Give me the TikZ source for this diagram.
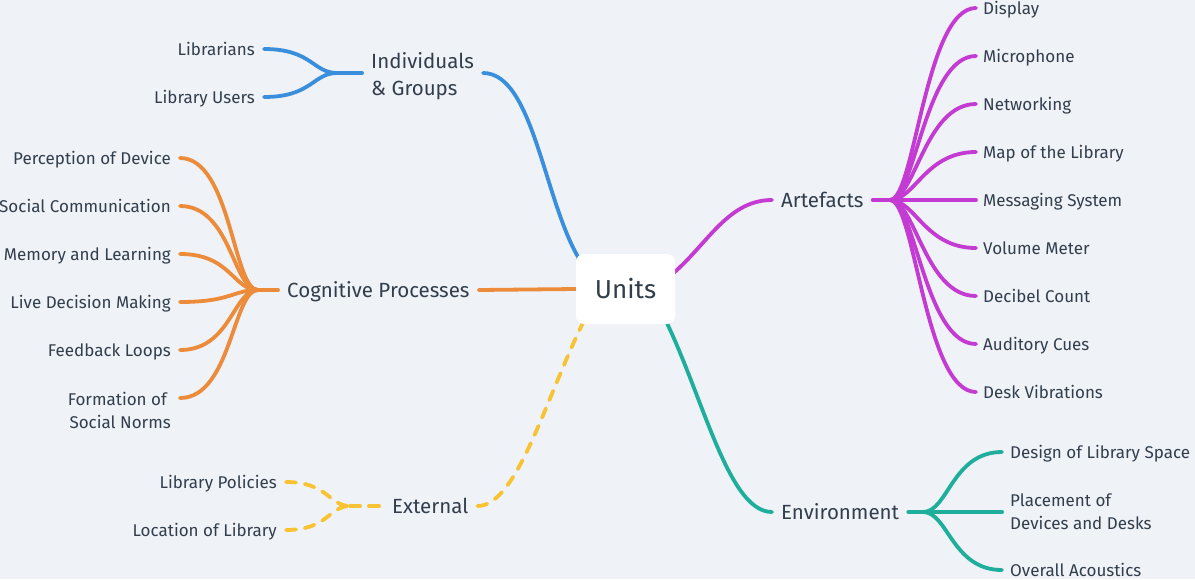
\documentclass[tikz,border=0pt]{standalone}
\usepackage{fontspec}
\setmainfont{Fira Sans}
\usetikzlibrary{calc}

\definecolor{bgc}{HTML}{EFF2F6}
\definecolor{ink}{HTML}{323E4C}
\definecolor{cblue}{HTML}{3A8FDD}
\definecolor{corange}{HTML}{EC8B3A}
\definecolor{cpurple}{HTML}{C43BD3}
\definecolor{cyellow}{HTML}{F8C332}
\definecolor{cteal}{HTML}{1FAE9B}

\pgfdeclarelayer{back}
\pgfdeclarelayer{edges}
\pgfsetlayers{back,edges,main}

\begin{document}
\begin{tikzpicture}[x=1pt,y=-1pt,
  leaf/.style={font=\fontsize{17}{23}\selectfont, text=ink, inner ysep=0pt,
    text height=13.3pt, text depth=0pt},
  leafL/.style={leaf, anchor=east, inner xsep=9pt},
  leafR/.style={leaf, anchor=west, inner xsep=7pt},
  multileaf/.style={font=\fontsize{17}{23}\selectfont, text=ink, inner ysep=0pt},
  branch/.style={font=\fontsize{20.5}{27}\selectfont, text=ink, anchor=west,
    inner xsep=9pt, inner ysep=0pt, text height=14.1pt, text depth=0pt},
  centre/.style={fill=white, rounded corners=8pt, minimum width=99pt,
    minimum height=70pt, font=\fontsize{26}{30}\selectfont, text=ink},
  wire/.style={line width=3.8pt, line cap=round},
  dashwire/.style={wire, dash pattern=on 10pt off 9pt},
]
\useasboundingbox (0,0) rectangle (1195,579);
\begin{pgfonlayer}{back}
  \fill[bgc] (0,0) rectangle (1195,579);
\end{pgfonlayer}

% central topic
\node[centre] (units) at (625.5,289) {Units};

% main branch labels
\node[branch, text height=, text depth=, align=left] (ind) at (362,76) {Individuals\\\& Groups};
\node[branch] (cog) at (278,290) {Cognitive Processes};
\node[branch] (ext) at (383,506) {External};
\node[branch] (art) at (772,200) {Artefacts};
\node[branch] (env) at (772,512) {Environment};

% merge points of the leaf bundles
\coordinate (indm) at (337,73);
\coordinate (cogm) at (258,290);
\coordinate (extm) at (350,506);
\coordinate (artm) at (890,200);
\coordinate (envm) at (923,512);

% individuals & groups
\node[leafL] (lib) at (264,49) {Librarians};
\node[leafL] (usr) at (264,97) {Library Users};

% cognitive processes
\node[leafL] (c1) at (180,158) {Perception of Device};
\node[leafL] (c2) at (180,206) {Social Communication};
\node[leafL] (c3) at (180,254) {Memory and Learning};
\node[leafL] (c4) at (180,302) {Live Decision Making};
\node[leafL] (c5) at (180,350) {Feedback Loops};
\node[multileaf, anchor=east, inner xsep=9pt, align=right] (c6) at (180,410) {Formation of\hspace*{4pt}\\Social Norms};

% external
\node[leafL] (e1) at (286,482) {Library Policies};
\node[leafL] (e2) at (286,530) {Location of Library};

% artefacts
\node[leafR] (a1) at (976,8) {Display};
\node[leafR] (a2) at (976,56) {Microphone};
\node[leafR] (a3) at (976,104) {Networking};
\node[leafR] (a4) at (976,152) {Map of the Library};
\node[leafR] (a5) at (976,200) {Messaging System};
\node[leafR] (a6) at (976,248) {Volume Meter};
\node[leafR] (a7) at (976,296) {Decibel Count};
\node[leafR] (a8) at (976,344) {Auditory Cues};
\node[leafR] (a9) at (976,392) {Desk Vibrations};

% environment
\node[leafR, inner xsep=8pt] (v1) at (1002,452) {Design of Library Space};
\node[multileaf, anchor=west, inner xsep=8pt, align=left] (v2) at (1002,512) {Placement of\\Devices and Desks};
\node[leafR, inner xsep=8pt] (v3) at (1002,570) {Overall Acoustics};

\begin{pgfonlayer}{edges}
  % branches from the centre
  \draw[wire, cblue] ([yshift=3pt]ind.east) .. controls +(53,0) and +(-41,-54) .. ([shift={(10pt,-15pt)}]units.north west);
  \draw[wire, corange] (cog.east) -- (units.west);
  \draw[dashwire, cyellow] (ext.east) .. controls +(43,0) and +(-45,80) .. ([shift={(19pt,24pt)}]units.south west);
  \draw[wire, cpurple] (art.west) .. controls +(-47,0) and +(40,-30) .. ([shift={(-10pt,-26pt)}]units.north east);
  \draw[wire, cteal] (env.west) .. controls +(-47,0) and +(45,80) .. ([shift={(-20pt,24pt)}]units.south east);

  % individuals & groups bundle
  \draw[wire, cblue] (indm) -- ([yshift=3pt]ind.west);
  \foreach \n in {lib,usr}
    \draw[wire, cblue] (\n.east) .. controls +(48,0) and +(-24,0) .. (indm);

  % cognitive processes bundle
  \draw[wire, corange] (cogm) -- (cog.west);
  \foreach \n in {c1,c2,c3,c4,c5}
    \draw[wire, corange] (\n.east) .. controls +(51,0) and +(-25,0) .. (cogm);
  \draw[wire, corange] ([yshift=12pt]c6.east) .. controls +(51,0) and +(-25,0) .. (cogm);

  % external bundle
  \draw[dashwire, cyellow] (extm) -- (ext.west);
  \foreach \n in {e1,e2}
    \draw[dashwire, cyellow] (\n.east) .. controls +(42,0) and +(-21,0) .. (extm);

  % artefacts bundle
  \draw[wire, cpurple] (art.east) -- (artm);
  \foreach \n in {a1,a2,a3,a4,a5,a6,a7,a8,a9}
    \draw[wire, cpurple] (artm) .. controls +(25,0) and +(-51,0) .. (\n.west);

  % environment bundle
  \draw[wire, cteal] (env.east) -- (envm);
  \foreach \n in {v1,v2,v3}
    \draw[wire, cteal] (envm) .. controls +(25,0) and +(-50,0) .. (\n.west);
\end{pgfonlayer}
\end{tikzpicture}
\end{document}
